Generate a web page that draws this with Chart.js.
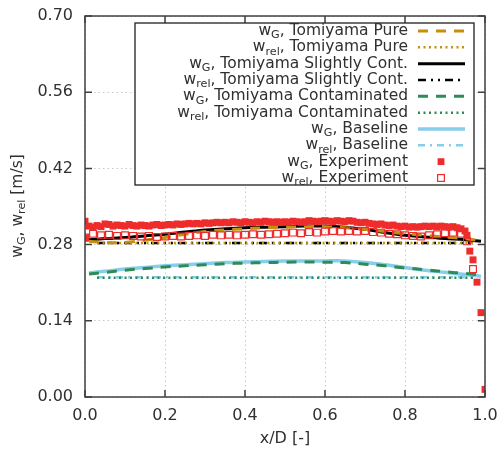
<!DOCTYPE html>
<html>
<head>
<meta charset="utf-8">
<script src="https://cdn.jsdelivr.net/npm/chart.js@4/dist/chart.umd.min.js"></script>
<style>
  html, body { margin: 0; padding: 0; background: #fff; }
  #wrap { width: 499px; height: 451px; position: relative; }
</style>
</head>
<body>
<div id="wrap"><canvas id="chart"></canvas></div>
<script>
// Tick labels
const xTicks = [0.0, 0.2, 0.4, 0.6, 0.8, 1.0];
const yTicks = [0.00, 0.14, 0.28, 0.42, 0.56, 0.70];

// Model curves (w_G), sampled along x/D
const lineX    = [0.01, 0.05, 0.10, 0.15, 0.20, 0.25, 0.30, 0.35, 0.40, 0.45, 0.50, 0.55, 0.60, 0.65, 0.70, 0.75, 0.80, 0.85, 0.90, 0.95, 0.99];
const wgPure   = [0.286, 0.284, 0.284, 0.288, 0.293, 0.299, 0.304, 0.307, 0.309, 0.311, 0.312, 0.313, 0.313, 0.311, 0.308, 0.304, 0.300, 0.297, 0.294, 0.291, 0.287];
const wgSlight = [0.289, 0.291, 0.293, 0.296, 0.299, 0.303, 0.307, 0.309, 0.311, 0.312, 0.313, 0.314, 0.314, 0.312, 0.308, 0.302, 0.297, 0.294, 0.291, 0.289, 0.286];
const wgCont   = [0.226, 0.229, 0.233, 0.236, 0.239, 0.241, 0.243, 0.245, 0.246, 0.247, 0.2475, 0.248, 0.2475, 0.247, 0.244, 0.241, 0.237, 0.234, 0.230, 0.227, 0.224];
const wgBase   = [0.228, 0.231, 0.235, 0.238, 0.241, 0.243, 0.245, 0.247, 0.248, 0.249, 0.250, 0.250, 0.250, 0.250, 0.247, 0.243, 0.238, 0.233, 0.229, 0.225, 0.222];

// Model curves (w_rel)
const relX      = [0.03, 0.25, 0.50, 0.75, 0.97];
const wrelPure  = [0.283, 0.283, 0.283, 0.283, 0.283];
const wrelSlight= [0.283, 0.283, 0.283, 0.283, 0.283];
const wrelCont  = [0.219, 0.219, 0.219, 0.219, 0.219];
const wrelBase  = [0.220, 0.220, 0.220, 0.220, 0.220];

// Experiment, w_G
const expGX = [0.00, 0.00, 0.01, 0.02, 0.03, 0.04, 0.05, 0.06, 0.07, 0.08, 0.09,
  0.10, 0.11, 0.12, 0.13, 0.14, 0.15, 0.16, 0.17, 0.18, 0.19,
  0.20, 0.21, 0.22, 0.23, 0.24, 0.25, 0.26, 0.27, 0.28, 0.29,
  0.30, 0.31, 0.32, 0.33, 0.34, 0.35, 0.36, 0.37, 0.38, 0.39,
  0.40, 0.41, 0.42, 0.43, 0.44, 0.45, 0.46, 0.47, 0.48, 0.49,
  0.50, 0.51, 0.52, 0.53, 0.54, 0.55, 0.56, 0.57, 0.58, 0.59,
  0.60, 0.61, 0.62, 0.63, 0.64, 0.65, 0.66, 0.67, 0.68, 0.69,
  0.70, 0.71, 0.72, 0.73, 0.74, 0.75, 0.76, 0.77, 0.78, 0.79,
  0.80, 0.81, 0.82, 0.83, 0.84, 0.85, 0.86, 0.87, 0.88, 0.89,
  0.90, 0.91, 0.92, 0.93, 0.94, 0.95, 0.955, 0.962, 0.97, 0.98, 0.99, 1.00];
const expG = [0.323, 0.292, 0.314, 0.312, 0.315, 0.313, 0.318, 0.317, 0.314, 0.316, 0.315,
  0.314, 0.317, 0.315, 0.314, 0.316, 0.315, 0.314, 0.316, 0.317, 0.315,
  0.316, 0.317, 0.316, 0.318, 0.317, 0.318, 0.319, 0.318, 0.319, 0.318,
  0.320, 0.319, 0.320, 0.321, 0.320, 0.321, 0.320, 0.322, 0.321, 0.320,
  0.322, 0.321, 0.320, 0.322, 0.321, 0.323, 0.322, 0.321, 0.322, 0.321,
  0.322, 0.321, 0.323, 0.322, 0.321, 0.322, 0.324, 0.323, 0.322, 0.323,
  0.324, 0.323, 0.322, 0.324, 0.323, 0.322, 0.324, 0.323, 0.321, 0.320,
  0.321, 0.319, 0.318, 0.317, 0.318, 0.316, 0.315, 0.316, 0.314, 0.313,
  0.314, 0.312, 0.313, 0.312, 0.313, 0.314, 0.313, 0.314, 0.313, 0.314,
  0.313, 0.312, 0.313, 0.311, 0.309, 0.305, 0.297, 0.268, 0.252, 0.211, 0.155, 0.014];

// Experiment, w_rel
const expRelX = [0.00, 0.02, 0.04, 0.06, 0.08, 0.10, 0.12, 0.14, 0.16, 0.18,
  0.20, 0.22, 0.24, 0.26, 0.28, 0.30, 0.32, 0.34, 0.36, 0.38,
  0.40, 0.42, 0.44, 0.46, 0.48, 0.50, 0.52, 0.54, 0.56, 0.58,
  0.60, 0.62, 0.64, 0.66, 0.68, 0.70, 0.72, 0.74, 0.76, 0.78,
  0.80, 0.82, 0.84, 0.86, 0.88, 0.90, 0.92, 0.94, 0.955, 0.97];
const expRel = [0.293, 0.300, 0.297, 0.298, 0.296, 0.297, 0.296, 0.295, 0.296, 0.294,
  0.295, 0.296, 0.295, 0.296, 0.297, 0.296, 0.298, 0.297, 0.298, 0.297,
  0.298, 0.299, 0.298, 0.299, 0.300, 0.301, 0.302, 0.301, 0.303, 0.302,
  0.304, 0.305, 0.304, 0.305, 0.304, 0.305, 0.303, 0.302, 0.300, 0.299,
  0.297, 0.296, 0.295, 0.297, 0.299, 0.301, 0.302, 0.300, 0.286, 0.235];

const GOLD = '#c4900e';
const GREEN = '#2e8b57';
const BLUE = '#87ceeb';
const RED = '#ee2c2c';
const FONT = '"DejaVu Sans", Verdana, sans-serif';
const TEXT = '#303030';

function pts(xs, ys) {
  return xs.map((x, i) => ({ x: x, y: ys[i] }));
}

function lineSet(label, xs, ys, color, width, dash, order) {
  return {
    label: label, data: pts(xs, ys), showLine: true, pointRadius: 0,
    borderColor: color, borderWidth: width, borderDash: dash,
    borderCapStyle: 'butt', tension: 0.35, fill: false, order: order
  };
}

const datasets = [
  lineSet('wG Pure', lineX, wgPure, GOLD, 3, [10, 8], 5),
  lineSet('wrel Pure', relX, wrelPure, GOLD, 2.5, [2, 3.5], 4),
  lineSet('wG Slight', lineX, wgSlight, '#000', 3, [], 7),
  lineSet('wrel Slight', relX, wrelSlight, '#000', 2.5, [8, 5, 2, 5, 2, 5], 6),
  lineSet('wG Cont', lineX, wgCont, GREEN, 3, [10, 8], 3),
  lineSet('wrel Cont', relX, wrelCont, GREEN, 2.5, [2, 3.5], 2),
  lineSet('wG Base', lineX, wgBase, BLUE, 3.5, [], 9),
  lineSet('wrel Base', relX, wrelBase, BLUE, 2.5, [7, 5, 2, 5], 8),
  {
    label: 'wrel Exp', data: pts(expRelX, expRel), showLine: false,
    pointStyle: 'rect', pointRadius: 4.8, borderWidth: 1.2,
    borderColor: RED, backgroundColor: 'rgba(255,255,255,0)', order: 1
  },
  {
    label: 'wG Exp', data: pts(expGX, expG), showLine: false,
    pointStyle: 'rect', pointRadius: 4.9, borderWidth: 0,
    borderColor: RED, backgroundColor: RED, order: 0
  }
];

// Legend rows: [main, subscript, rest, dataset index]
const legendRows = [
  ['w', 'G', ', Tomiyama Pure', 0],
  ['w', 'rel', ', Tomiyama Pure', 1],
  ['w', 'G', ', Tomiyama Slightly Cont.', 2],
  ['w', 'rel', ', Tomiyama Slightly Cont.', 3],
  ['w', 'G', ', Tomiyama Contaminated', 4],
  ['w', 'rel', ', Tomiyama Contaminated', 5],
  ['w', 'G', ', Baseline', 6],
  ['w', 'rel', ', Baseline', 7],
  ['w', 'G', ', Experiment', 9],
  ['w', 'rel', ', Experiment', 8]
];

function subText(ctx, parts, size) {
  ctx.font = size + 'px ' + FONT;
  const w1 = ctx.measureText(parts[0]).width;
  const w3 = ctx.measureText(parts[2]).width;
  ctx.font = (size * 0.72) + 'px ' + FONT;
  const w2 = ctx.measureText(parts[1]).width;
  return [w1, w2, w3];
}

function drawSub(ctx, parts, x, y, size) {
  const w = subText(ctx, parts, size);
  ctx.textAlign = 'left';
  ctx.textBaseline = 'middle';
  ctx.font = size + 'px ' + FONT;
  ctx.fillText(parts[0], x, y);
  ctx.font = (size * 0.72) + 'px ' + FONT;
  ctx.fillText(parts[1], x + w[0], y + size * 0.28);
  ctx.font = size + 'px ' + FONT;
  ctx.fillText(parts[2], x + w[0] + w[1], y);
  return w[0] + w[1] + w[2];
}

const framePlugin = {
  id: 'frame',
  afterDraw(chart) {
    const ctx = chart.ctx;
    const a = chart.chartArea;
    const xs = chart.scales.x, ys = chart.scales.y;
    ctx.save();

    // border and inward ticks
    ctx.strokeStyle = '#404040';
    ctx.lineWidth = 1.5;
    ctx.setLineDash([]);
    ctx.strokeRect(a.left, a.top, a.right - a.left, a.bottom - a.top);
    ctx.beginPath();
    xTicks.forEach(v => {
      const px = xs.getPixelForValue(v);
      ctx.moveTo(px, a.bottom); ctx.lineTo(px, a.bottom - 7);
      ctx.moveTo(px, a.top); ctx.lineTo(px, a.top + 7);
    });
    yTicks.forEach(v => {
      const py = ys.getPixelForValue(v);
      ctx.moveTo(a.left, py); ctx.lineTo(a.left + 7, py);
      ctx.moveTo(a.right, py); ctx.lineTo(a.right - 7, py);
    });
    ctx.stroke();

    // legend box
    const bx = 135, by = 23, bw = 339, bh = 162;
    ctx.fillStyle = '#fff';
    ctx.fillRect(bx, by, bw, bh);
    ctx.strokeStyle = '#202020';
    ctx.lineWidth = 1.3;
    ctx.strokeRect(bx, by, bw, bh);

    const size = 15.5;
    legendRows.forEach((row, i) => {
      const cy = 31 + i * 16.33;
      const w = subText(ctx, row, size);
      ctx.fillStyle = TEXT;
      drawSub(ctx, row, 408 - (w[0] + w[1] + w[2]), cy, size);
      const ds = datasets[row[3]];
      if (ds.showLine) {
        ctx.strokeStyle = ds.borderColor;
        ctx.lineWidth = ds.borderWidth;
        ctx.lineCap = 'butt';
        ctx.setLineDash(ds.borderDash);
        ctx.beginPath();
        ctx.moveTo(418, cy); ctx.lineTo(465, cy);
        ctx.stroke();
        ctx.setLineDash([]);
      } else {
        const s = 6.8;
        if (ds.borderWidth > 0) {
          ctx.strokeStyle = RED; ctx.lineWidth = 1.2;
          ctx.strokeRect(441 - s / 2, cy - s / 2, s, s);
        } else {
          ctx.fillStyle = RED;
          ctx.fillRect(441 - s / 2, cy - s / 2, s, s);
        }
      }
    });

    // axis titles
    ctx.fillStyle = TEXT;
    ctx.font = '16px ' + FONT;
    ctx.textAlign = 'center';
    ctx.textBaseline = 'middle';
    ctx.fillText('x/D [-]', (a.left + a.right) / 2, 439);

    ctx.translate(18, 206);
    ctx.rotate(-Math.PI / 2);
    const yl1 = ['w', 'G', ', '];
    const yl2 = ['w', 'rel', ' [m/s]'];
    const w1 = subText(ctx, yl1, 15.5), w2 = subText(ctx, yl2, 15.5);
    const tot = w1[0] + w1[1] + w1[2] + w2[0] + w2[1] + w2[2];
    const used = drawSub(ctx, yl1, -tot / 2, 0, 15.5);
    drawSub(ctx, yl2, -tot / 2 + used, 0, 15.5);
    ctx.restore();
  }
};

new Chart(document.getElementById('chart'), {
  type: 'scatter',
  data: { datasets: datasets },
  options: {
    responsive: true,
    maintainAspectRatio: false,
    animation: false,
    layout: { padding: { left: 0, right: 14, top: 16, bottom: 0 } },
    plugins: { legend: { display: false }, tooltip: { enabled: false } },
    scales: {
      x: {
        type: 'linear', min: 0, max: 1,
        afterBuildTicks: s => { s.ticks = xTicks.map(v => ({ value: v })); },
        afterFit: s => { s.height = 54; s.paddingLeft = 0; s.paddingRight = 0; },
        ticks: { callback: v => v.toFixed(1), color: TEXT, font: { family: FONT, size: 16 }, padding: 9, maxRotation: 0 },
        grid: { color: '#c8c8c8', lineWidth: 1, drawTicks: false },
        border: { display: false, dash: [1.5, 3] }
      },
      y: {
        type: 'linear', min: 0, max: 0.7,
        afterBuildTicks: s => { s.ticks = yTicks.map(v => ({ value: v })); },
        afterFit: s => { s.width = 85; s.paddingTop = 0; s.paddingBottom = 0; },
        ticks: { callback: v => v.toFixed(2), color: TEXT, font: { family: FONT, size: 16 }, padding: 12 },
        grid: { color: '#c8c8c8', lineWidth: 1, drawTicks: false },
        border: { display: false, dash: [1.5, 3] }
      }
    }
  },
  plugins: [framePlugin]
});
</script>
</body>
</html>
